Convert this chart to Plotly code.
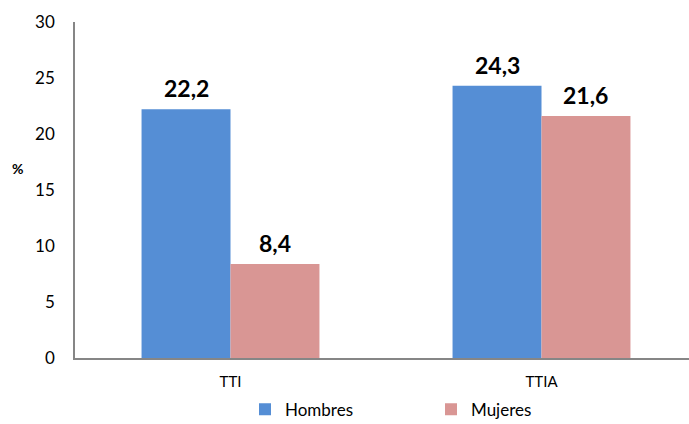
import plotly.graph_objects as go

categories = ["TTI", "TTIA"]
hombres = [22.2, 24.3]
mujeres = [8.4, 21.6]
y_ticks = [0, 5, 10, 15, 20, 25, 30]

FONT = "Lato, Carlito, Calibri, sans-serif"

def fmt(v):
    return f"{v:.1f}".replace(".", ",")

W, H = 689, 424
ml, mr, mt, mb = 75, 0, 22, 66
plot_w = W - ml - mr
plot_h = H - mt - mb
unit = 311.0
xmax = -0.5 + plot_w / unit
bargap = 0.428
bar_px = unit * (1 - bargap) / 2

fig = go.Figure()
fig.add_trace(go.Bar(
    x=categories, y=hombres, name="Hombres",
    marker=dict(color="#558ED5", line=dict(width=0)),
))
fig.add_trace(go.Bar(
    x=categories, y=mujeres, name="Mujeres",
    marker=dict(color="#D99694", line=dict(width=0)),
))

annotations = []
for series, sign in ((hombres, -1), (mujeres, 1)):
    for cat, v in zip(categories, series):
        annotations.append(dict(
            x=cat, y=v, xref="x", yref="y", text=f"<b>{fmt(v)}</b>",
            xanchor="center", yanchor="middle", showarrow=False,
            xshift=sign * bar_px / 2, yshift=21,
            font=dict(size=23, family=FONT, color="black"),
        ))
annotations.append(dict(
    text="<b>%</b>", xref="paper", yref="paper",
    x=(17 - ml) / plot_w, y=(358 - 168) / plot_h,
    xanchor="center", yanchor="middle", showarrow=False,
    font=dict(size=14, family=FONT),
))

fig.update_layout(
    width=W, height=H,
    margin=dict(l=ml, r=mr, t=mt, b=mb, autoexpand=False),
    paper_bgcolor="white", plot_bgcolor="white",
    barmode="group", bargap=bargap, bargroupgap=0,
    font=dict(family=FONT, size=16, color="black"),
    showlegend=True,
    legend=dict(
        orientation="h", x=(245 - ml) / plot_w, xanchor="left", y=-0.1, yanchor="top",
        entrywidth=141, entrywidthmode="pixels",
        font=dict(size=17, family=FONT), itemsizing="constant",
    ),
    xaxis=dict(
        range=[-0.5, xmax], showgrid=False, zeroline=False,
        showline=True, linecolor="#868686", linewidth=1.5,
        ticks="", tickfont=dict(size=15), ticklabelstandoff=9,
        automargin=False, fixedrange=True,
    ),
    yaxis=dict(
        range=[0, 30], tickvals=y_ticks, showgrid=False, zeroline=False,
        showline=True, linecolor="#868686", linewidth=1.5,
        ticks="", tickfont=dict(size=17), ticklabelstandoff=15,
        automargin=False, fixedrange=True,
    ),
    annotations=annotations,
)

fig.write_html(
    "out.html",
    config={"displayModeBar": False},
    post_script="document.body.style.margin='0';document.body.style.padding='0';",
)
